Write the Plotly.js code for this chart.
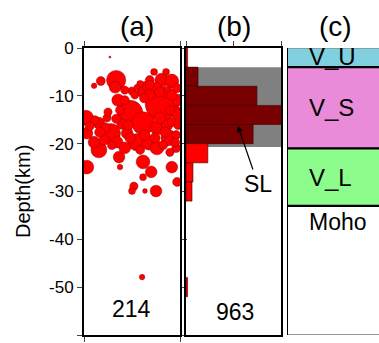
<!DOCTYPE html>
<html><head><meta charset="utf-8">
<script src="https://cdn.plot.ly/plotly-3.0.1.min.js"></script>
<style>html,body{margin:0;padding:0;background:#fff}#c{width:379px;height:343px}</style>
</head><body><div id="c"></div>
<script>
// (a) earthquakes: position along profile (km), depth (km), magnitude
const eqX = [5.4,6.7,3.5,2.1,6.5,7.1,10.0,11.0,14.6,17.1,12.9,15.0,16.2,18.3,17.3,11.9,12.5,19.4,13.7,11.7,
  16.2,9.6,12.3,0.4,3.1,4.8,6.7,15.2,17.3,18.3,19.2,0.6,5.6,9.0,2.1,6.9,11.0,13.5,17.7,3.1,
  15.2,19.2,7.3,12.3,0.6,7.5,14.0,18.3,12.3,19.4,10.4,10.0,12.7,15.0,12.1,8.5,13.7,19.6,19.2,2.3,
  4.4,7.9,15.8,19.6,9.6,14.8,16.5,1.2,11.7,8.5,5.8,4.2,17.9,
  13.7,15.8,18.3,10.6,8.5,19.6,17.9,7.5,5.0,3.3,12.7,9.2,16.9,19.0];
const eqDepth = [-1.9,-6.7,-6.9,-7.9,-8.2,-10.9,-9.0,-8.2,-5.0,-5.0,-8.2,-8.4,-6.7,-6.9,-9.2,-9.2,-10.5,-8.4,-6.7,-7.5,
  -11.7,-13.6,-15.7,-14.6,-15.7,-14.6,-14.8,-16.7,-16.1,-15.5,-18.2,-17.8,-17.8,-17.8,-19.7,-19.7,-19.7,-19.9,-18.8,-21.3,
  -20.9,-20.9,-22.8,-23.8,-24.9,-24.9,-25.9,-24.9,-27.0,-28.0,-28.9,-29.9,-29.9,-29.9,-47.9,-10.9,-9.8,-10.9,-13.4,-15.1,
  -16.7,-15.9,-14.6,-16.1,-18.8,-18.8,-20.3,-16.3,-21.3,-20.9,-20.3,-19.2,-21.8,
  -7.7,-9.2,-9.8,-9.8,-8.8,-14.0,-13.0,-13.0,-13.4,-17.6,-18.2,-16.1,-17.6,-19.7];
const eqMag = [0.3,2.8,1.3,0.8,1.7,1.8,1.2,0.8,1.0,1.0,1.7,1.7,2.0,2.0,1.7,1.3,1.3,1.3,1.3,1.0,
  4.8,3.7,3.3,2.2,1.7,1.2,1.3,2.0,1.7,1.3,1.3,1.7,2.8,1.7,1.7,1.7,2.5,2.0,2.3,2.3,
  2.0,1.3,1.7,2.0,2.0,0.8,1.7,1.7,1.0,1.3,1.2,1.0,0.7,1.7,0.8,1.3,1.5,1.7,1.7,1.3,
  1.5,1.5,1.7,1.3,1.5,1.5,1.3,1.3,1.3,1.7,1.3,1.5,1.2,
  1.3,1.5,1.5,1.2,1.2,1.7,1.3,1.3,1.2,1.5,1.5,1.5,1.5,1.3];
const countA = "214";

// (b) depth histogram (4 km bins): bin centre depth, counts
const binDepth = [-2,-6,-10,-14,-18,-22,-26,-30,-50];
const binCount = [5,38,224,345,212,69,22,19,5];
const countB = "963";
const slTop = -4, slBottom = -20.7;

// (c) velocity layers
const layerNames = ["V_U","V_S","V_L"];
const layerTop = [0,-4,-21];
const layerBottom = [-4,-21,-33];
const layerColors = ["#80d0e0","#e98bd9","#8cfd8c"];
const mohoLabel = "Moho";

const yTicks = [0,-10,-20,-30,-40,-50,-60];
const yTickText = ["0","-10","-20","-30","-40","-50","-60"];

const F = "Liberation Sans, Arial, Helvetica, sans-serif";

// draw big events first
const order = eqMag.map((m,i)=>i).sort((a,b)=>eqMag[b]-eqMag[a]);
const traces = [
  {type:"scatter", mode:"markers", xaxis:"x", yaxis:"y",
   x: order.map(i=>eqX[i]), y: order.map(i=>eqDepth[i]),
   marker:{size: order.map(i=>eqMag[i]*6.9), color:"#ff0000", opacity:1,
           line:{color:"#8a0000", width:0.45}},
   hoverinfo:"skip", showlegend:false},
  {type:"bar", orientation:"h", xaxis:"x2", yaxis:"y2",
   x: binCount, y: binDepth, width: 4,
   marker:{color: binDepth.map(d=> (d<slTop && d>slBottom) ? "#780000" : "#ff0000"),
           line:{color:"#3a0000", width:0.6}},
   hoverinfo:"skip", showlegend:false}
];

const yDom = [1-335/343, 1-48/343];
const shapes = [
  {type:"rect", xref:"x2", yref:"y2", x0:0, x1:300, y0:slTop, y1:slBottom,
   fillcolor:"#808080", line:{width:0}, layer:"below"}
];
layerNames.forEach((n,i)=>{
  shapes.push({type:"rect", xref:"x3", yref:"y3", x0:0, x1:1, y0:layerTop[i], y1:layerBottom[i],
    fillcolor:layerColors[i], line:{width:0}, layer:"below"});
});
layerBottom.forEach(b=>{
  shapes.push({type:"line", xref:"x3", yref:"y3", x0:0, x1:1, y0:b, y1:b, line:{color:"#000", width:2.2}});
});
shapes.push({type:"line", xref:"x3", yref:"y3", x0:0, x1:1, y0:0, y1:0, line:{color:"#777", width:1}});
shapes.push({type:"line", xref:"x3", yref:"y3", x0:0, x1:1, y0:-60, y1:-60, line:{color:"#777", width:1.5}});
shapes.push({type:"line", xref:"x3", yref:"y3", x0:0, x1:0, y0:0, y1:-60, line:{color:"#000", width:2}});

function T(text, xref, yref, x, y, size, extra){
  return Object.assign({text, xref, yref, x, y, xanchor:"center", yanchor:"middle", showarrow:false,
    font:{family:F,size,color:"#000"}}, extra||{});
}
const ann = [
  T("(a)","paper","paper",136.5/379,1-27/343,28),
  T("(b)","paper","paper",234/379,1-27/343,28),
  T("(c)","paper","paper",335.5/379,1-27/343,28),
  T("Depth(km)","paper","paper",23/379,1-192/343,20,{textangle:-90}),
  T(countA,"x","y",9.9,-54.6,23),
  T(countB,"x2","y2",156,-55.1,23),
  {text:"SL", xref:"x2", yref:"y2", x:164, y:-16.3, ax:20, ay:58, showarrow:true, arrowhead:2, arrowsize:1, arrowwidth:1.2, arrowcolor:"#000", standoff:0,
   font:{family:F,size:23,color:"#000"}}
];
layerNames.forEach((n,i)=>{
  ann.push(T(n,"x3","y3",0.215,(layerTop[i]+layerBottom[i])/2 + (i===0?0.3:0),24,{xanchor:"left"}));
});
ann.push(T(mohoLabel,"x3","y3",0.215,-36.4,23,{xanchor:"left"}));

const layout = {
  width:379, height:343, margin:{l:0,r:0,t:0,b:0}, paper_bgcolor:"#fff", plot_bgcolor:"rgba(0,0,0,0)",
  font:{family:F, size:17, color:"#000"}, showlegend:false, bargap:0,
  xaxis:{domain:[84/379,180/379], range:[0,20], tickvals:[0,20], showticklabels:false, ticks:"outside", ticklen:5, tickwidth:1,
         side:"top", mirror:"ticks", showline:true, linewidth:2, linecolor:"#000", showgrid:false, zeroline:false, anchor:"y"},
  yaxis:{domain:yDom, range:[-60,0], tickvals:yTicks, ticktext:yTickText, ticks:"outside", ticklen:5, tickwidth:1,
         mirror:"ticks", showline:true, linewidth:2, linecolor:"#000", showgrid:false, zeroline:false, anchor:"x",
         tickfont:{family:F,size:17,color:"#000"}},
  xaxis2:{domain:[186/379,281/379], range:[0,300], tickvals:[0,150,300], showticklabels:false, ticks:"outside", ticklen:5, tickwidth:1,
          side:"top", mirror:true, showline:true, linewidth:2, linecolor:"#000", showgrid:false, zeroline:false, anchor:"y2"},
  yaxis2:{domain:yDom, range:[-60,0], showticklabels:false, ticks:"", mirror:true, showline:true, linewidth:2, linecolor:"#000",
          showgrid:false, zeroline:false, anchor:"x2"},
  xaxis3:{domain:[287/379,1], range:[0,1], visible:false, anchor:"y3"},
  yaxis3:{domain:yDom, range:[-60,0], visible:false, anchor:"x3"},
  shapes: shapes, annotations: ann
};
Plotly.newPlot("c", traces, layout, {staticPlot:true, displayModeBar:false});
</script></body></html>
